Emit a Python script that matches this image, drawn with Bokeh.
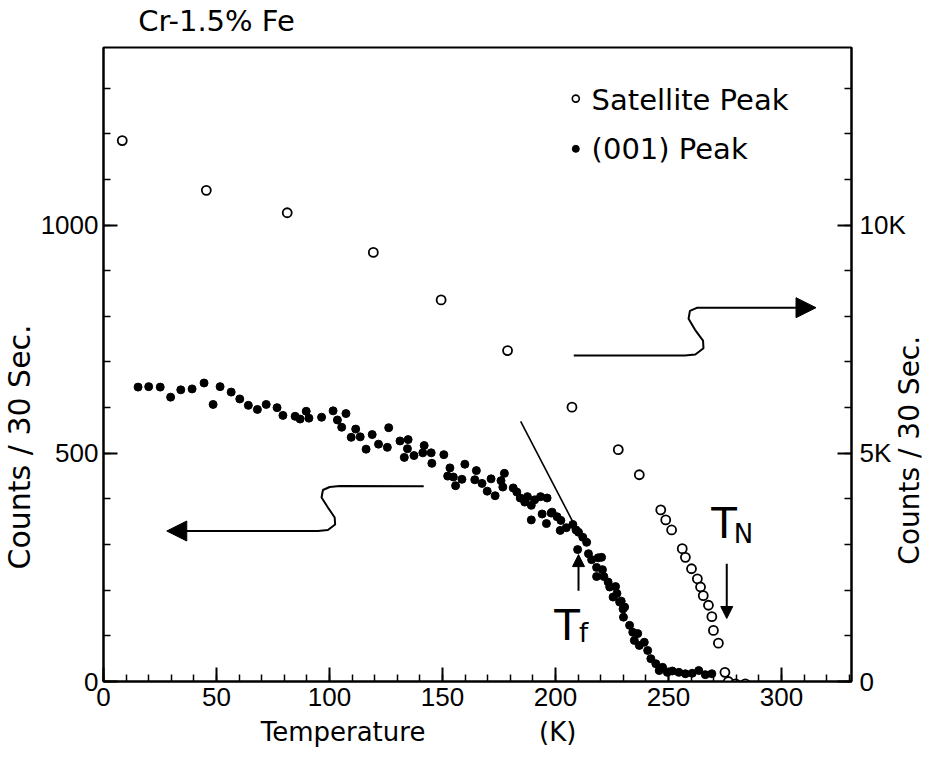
import numpy as np
from bokeh.plotting import figure
from bokeh.models import Range1d, LinearAxis, FixedTicker, Label, Arrow, NormalHead, Title
from bokeh.embed import file_html
from bokeh.resources import INLINE

# ---------------- data ----------------
# (001) peak, left axis (counts / 30 s)
peak001_T = [15.3, 20.0, 25.1, 29.7, 34.2, 39.2, 44.5, 48.5, 51.6, 56.5,
             60.3, 64.1, 68.1, 72.0, 76.8, 79.4, 84.8, 87.0, 89.7, 90.9,
             96.5, 101.6, 103.5, 107.3, 105.4, 111.6, 109.6, 113.6, 118.9, 126.2,
             116.2, 121.7, 125.6, 131.2, 134.8, 134.5, 133.1, 137.4, 141.9, 141.3,
             145.0, 145.3, 150.6, 153.3, 152.3, 154.8, 155.8, 158.6, 159.9, 164.3,
             165.0, 167.5, 169.8, 171.5, 173.3, 175.9, 177.4, 176.7, 181.3, 182.9,
             184.4, 186.4, 187.6, 189.3, 190.8, 193.4, 196.3, 189.3, 194.1, 196.0,
             198.1, 200.7, 202.4, 204.8, 202.1, 207.7, 209.1, 198.5, 210.2, 212.1,
             209.8, 213.8, 214.6, 216.0, 218.9, 218.2, 220.8, 221.4, 218.2, 223.3,
             226.6, 227.2, 229.1, 230.6, 230.1, 220.4, 224.0, 225.5, 228.4, 229.9,
             232.8, 234.2, 236.4, 234.9, 237.1, 239.3, 240.8, 242.2, 244.4, 245.9,
             247.4, 249.5, 251.7, 254.6, 257.5, 260.5, 263.4, 266.3, 269.2]
peak001_counts = [645, 646, 645, 623, 639, 641, 654, 607, 646, 634,
                  619, 605, 596, 607, 600, 583, 581, 575, 592, 577,
                  579, 593, 573, 587, 557, 553, 535, 536, 541, 556,
                  509, 520, 513, 527, 530, 510, 491, 495, 517, 501,
                  501, 478, 497, 468, 450, 448, 429, 443, 476, 442,
                  462, 434, 417, 444, 407, 440, 456, 426, 424, 415,
                  402, 393, 405, 386, 398, 405, 402, 354, 367, 346,
                  369, 361, 353, 337, 331, 344, 332, 371, 327, 316,
                  289, 305, 280, 267, 271, 250, 245, 230, 230, 218,
                  208, 193, 176, 163, 141, 272, 207, 185, 174, 159,
                  123, 108, 105, 90, 79, 86, 68, 50, 39, 24,
                  31, 20, 23, 20, 17, 18, 24, 15, 17]

# satellite peak, right axis (counts / 30 s)
sat_T = [8.3, 45.5, 81.3, 119.4, 149.4, 178.8, 207.3, 227.8, 237.1, 246.6,
         248.8, 251.4, 256.1, 257.5, 260.2, 262.8, 264.2, 265.4, 267.7, 269.2,
         269.9, 272.1, 275.0, 276.5, 279.7, 284.0]
sat_counts = [11850, 10760, 10270, 9400, 8360, 7250, 6010, 5080, 4530, 3760,
              3540, 3320, 2910, 2720, 2470, 2250, 2070, 1880, 1670, 1420,
              1120, 840, 200, 0, -50, -50]

x_major = [0, 50, 100, 150, 200, 250, 300]
x_minor = list(range(0, 331, 10))
left_major = [0, 500, 1000]
left_minor = list(range(0, 1400, 100))
right_major = [0, 5000, 10000]
right_tick_labels = {0: "0", 5000: "5K", 10000: "10K"}
right_minor = list(range(0, 14000, 1000))

# texts placed along the axes: {axis value: text}
title_text = {50: "Cr-1.5% Fe"}
xlabel_text = {106: "Temperature", 201: "(K)"}
ylabel_text = "Counts / 30 Sec."
ylabel_right_text = {2560: ylabel_text}

# annotation guides (temperature, left-axis counts)
tf_line_T = [184.6, 208.2]
tf_line_c = [570, 345]
left_arrow_T = [141.7, 104.5, 100.1, 97.1, 96.5, 99.3, 102.3, 102.5, 99.3, 94.9, 36.7]
left_arrow_c = [427.8, 428.3, 426.1, 419.5, 403.1, 381.2, 359.3, 343.9, 331.9, 329.7, 329.7]
right_arrow_T = [208.1, 257.3, 261.9, 265.5, 265.3, 261.7, 258.9, 259.5, 262.8, 305.6]
right_arrow_c = [714.0, 714.0, 716.5, 730.0, 747.0, 771.0, 795.0, 812.0, 819.0, 819.0]

NUM_FONT = "Liberation Sans"
TXT_FONT = "DejaVu Sans"

p = figure(width=945, height=757, output_backend="svg", toolbar_location=None,
           x_range=Range1d(0, 331), y_range=Range1d(0, 1389),
           min_border_left=101, min_border_right=88, min_border_top=47,
           min_border_bottom=76, background_fill_color="white",
           border_fill_color="white")
p.extra_y_ranges = {"right": Range1d(0, 13890)}
p.xgrid.visible = False
p.ygrid.visible = False
p.outline_line_color = "black"
p.outline_line_width = 2

right_axis = LinearAxis(y_range_name="right")
p.add_layout(right_axis, "right")


def style(ax, major, minor, standoff):
    ax.ticker = FixedTicker(ticks=major, minor_ticks=minor)
    ax.major_tick_in = 14
    ax.major_tick_out = 0
    ax.minor_tick_in = 7
    ax.minor_tick_out = 0
    ax.axis_line_width = 2
    ax.axis_line_color = "black"
    ax.major_tick_line_width = 2
    ax.minor_tick_line_width = 1.5
    ax.major_tick_line_color = "black"
    ax.minor_tick_line_color = "black"
    ax.major_label_text_font = NUM_FONT
    ax.major_label_text_font_size = "26px"
    ax.major_label_text_color = "black"
    ax.major_label_standoff = standoff


style(p.xaxis[0], x_major, x_minor, 6)
style(p.yaxis[0], left_major, left_minor, 5)
style(right_axis, right_major, right_minor, 8)
right_axis.major_label_overrides = right_tick_labels


def text_axis(texts, side, size, standoff, orientation="horizontal", range_name=None):
    kw = {}
    if range_name:
        kw["y_range_name"] = range_name
    ax = LinearAxis(ticker=FixedTicker(ticks=list(texts.keys())),
                    major_label_overrides=texts, **kw)
    ax.axis_line_color = None
    ax.major_tick_line_color = None
    ax.minor_tick_line_color = None
    ax.major_tick_in = 0
    ax.major_tick_out = 0
    ax.minor_tick_in = 0
    ax.minor_tick_out = 0
    ax.major_label_text_font = TXT_FONT
    ax.major_label_text_font_size = size
    ax.major_label_text_color = "black"
    ax.major_label_standoff = standoff
    ax.major_label_orientation = orientation
    p.add_layout(ax, side)


text_axis(title_text, "above", "29px", 10)
text_axis(xlabel_text, "below", "26px", 8)
text_axis(ylabel_right_text, "right", "28px", 1, orientation=np.pi / 2,
          range_name="right")
p.add_layout(Title(text=ylabel_text, align="left", vertical_align="middle",
                   offset=112, standoff=0, text_font=TXT_FONT,
                   text_font_size="30px", text_font_style="normal",
                   text_color="black"), "left")

# data marks
p.scatter(peak001_T, peak001_counts, marker="circle", size=8,
          fill_color="black", line_color="black")
p.scatter(sat_T, sat_counts, y_range_name="right", marker="circle", size=9,
          fill_color="white", line_color="black", line_width=1.8)

# guide line and arrows
p.line(tf_line_T, tf_line_c, line_color="black", line_width=1.6)
p.line(left_arrow_T, left_arrow_c, line_color="black", line_width=2)
p.add_layout(Arrow(end=NormalHead(size=20, fill_color="black", line_color="black"),
                   x_start=left_arrow_T[-1], y_start=left_arrow_c[-1],
                   x_end=28.0, y_end=left_arrow_c[-1], line_width=2))
p.line(right_arrow_T, right_arrow_c, line_color="black", line_width=2)
p.add_layout(Arrow(end=NormalHead(size=20, fill_color="black", line_color="black"),
                   x_start=right_arrow_T[-1], y_start=right_arrow_c[-1],
                   x_end=315.3, y_end=right_arrow_c[-1], line_width=2))
# Tf and TN arrows
p.add_layout(Arrow(end=NormalHead(size=12, fill_color="black", line_color="black"),
                   x_start=210.2, y_start=199, x_end=210.2, y_end=278, line_width=2))
p.add_layout(Arrow(end=NormalHead(size=12, fill_color="black", line_color="black"),
                   x_start=275.8, y_start=258, x_end=275.8, y_end=138, line_width=2))


def lab(x, y, text, size, align="left", baseline="middle"):
    p.add_layout(Label(x=x, y=y, text=text, text_font=TXT_FONT, text_font_size=size,
                       text_align=align, text_baseline=baseline, text_color="black"))


# T_f and T_N labels
lab(205.1, 122.7, "T", "42px", align="center", baseline="alphabetic")
lab(212.4, 107.3, "f", "26px", align="center", baseline="alphabetic")
lab(274.6, 345.8, "T", "42px", align="center", baseline="alphabetic")
lab(283.2, 324.2, "N", "26px", align="center", baseline="alphabetic")

# legend
p.scatter([209.0], [1277], marker="circle", size=7, fill_color="white",
          line_color="black", line_width=1.6)
p.scatter([209.0], [1167], marker="circle", size=7, fill_color="black",
          line_color="black")
lab(216.0, 1275, "Satellite Peak", "29px")
lab(216.0, 1166, "(001)  Peak", "29px")

open("out.html", "w").write(file_html(p, INLINE))
